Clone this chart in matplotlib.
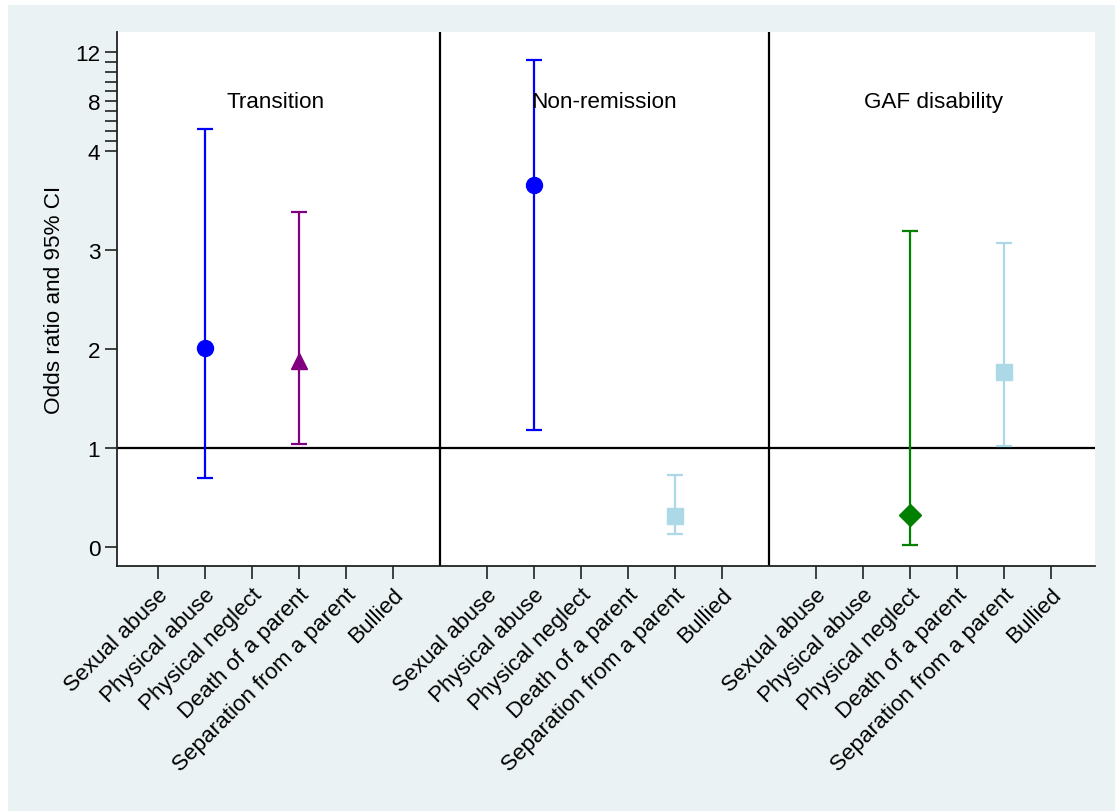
import matplotlib.pyplot as plt
import matplotlib.patches as mpatches
import numpy as np

plt.rcParams['font.family'] = ['Liberation Sans', 'DejaVu Sans']

# panels and exposures (same six on every panel)
panels = ["Transition", "Non-remission", "GAF disability"]
categories = ["Sexual abuse", "Physical abuse", "Physical neglect",
              "Death of a parent", "Separation from a parent", "Bullied"]

# estimates that were drawn (odds ratio with 95% CI)
est_panel = ["Transition", "Transition", "Non-remission", "Non-remission",
             "GAF disability", "GAF disability"]
est_category = ["Physical abuse", "Death of a parent", "Physical abuse",
                "Separation from a parent", "Physical neglect",
                "Separation from a parent"]
est_or = [2.01, 1.88, 3.65, 0.31, 0.32, 1.77]
est_lo = [0.70, 1.04, 1.18, 0.13, 0.02, 1.02]
est_hi = [5.8, 3.38, 11.3, 0.73, 3.19, 3.07]

y_ticks = [0, 1, 2, 3, 4, 8, 12]

# look per exposure
style = {
    "Physical abuse": dict(color="#0000ff", marker="o", ms=11.5),
    "Death of a parent": dict(color="#800080", marker="^", ms=11.5),
    "Separation from a parent": dict(color="#add8e6", marker="s", ms=11),
    "Physical neglect": dict(color="#008000", marker="D", ms=11.5),
}

FS = 16.2


# axis is linear up to 4, then squeezed 8:1 above
def fwd(v):
    v = np.asarray(v, dtype=float)
    return np.where(v <= 4, v, 4 + (v - 4) / 8)


def inv(u):
    u = np.asarray(u, dtype=float)
    return np.where(u <= 4, u, 4 + (u - 4) * 8)


fig = plt.figure(figsize=(11.15, 8.12), dpi=100, facecolor="white")
fig.patches.append(mpatches.Rectangle((8 / 1115, 0), 1 - 8 / 1115, 1 - 6 / 812,
                                      transform=fig.transFigure,
                                      facecolor="#eaf2f3", edgecolor="none",
                                      zorder=-10))
ax = fig.add_axes([117 / 1115, 1 - 566.7 / 812, (1095 - 117) / 1115, (566.7 - 33) / 812])
ax.set_facecolor("white")
ax.set_yscale("function", functions=(fwd, inv))

nper = len(categories) + 1
for i in range(len(est_or)):
    p = panels.index(est_panel[i])
    c = categories.index(est_category[i])
    x = p * nper + c + 1
    st = style[est_category[i]]
    ax.errorbar([x], [est_or[i]],
                yerr=[[est_or[i] - est_lo[i]], [est_hi[i] - est_or[i]]],
                fmt=st["marker"], color=st["color"], ms=st["ms"],
                ecolor=st["color"], elinewidth=1.6, capsize=5.5, capthick=1.6,
                zorder=3)

ax.axhline(1, color="black", lw=1.6, zorder=2)
for p in range(1, len(panels)):
    ax.axvline(p * nper, color="black", lw=1.6, zorder=2)

for p, name in enumerate(panels):
    ax.text(p * nper + (len(categories) + 1) / 2, 8, name, ha="center", va="center",
            fontsize=FS)

xt = [p * nper + c + 1 for p in range(len(panels)) for c in range(len(categories))]
ax.set_xticks(xt)
ax.set_xticklabels(categories * len(panels), rotation=45, ha="right",
                   rotation_mode="anchor", fontsize=FS)
ax.set_xlim(0.13, 20.94)
ax.set_ylim(-0.19, 13.6)
ax.set_yticks(y_ticks)
ax.set_yticklabels([str(t) for t in y_ticks], fontsize=FS)
ax.set_yticks([4.8, 5.6, 6.4, 7.2, 8.8, 9.6, 10.4, 11.2], minor=True)
ax.tick_params(axis="y", which="both", length=9, width=1.2, color="#222222", pad=3)
ax.tick_params(axis="x", length=9, width=1.2, color="#222222", pad=4)
ax.set_ylabel("Odds ratio and 95% CI", fontsize=FS, labelpad=7)

for s in ["top", "right"]:
    ax.spines[s].set_visible(False)
for s in ["left", "bottom"]:
    ax.spines[s].set_linewidth(1.3)
    ax.spines[s].set_color("#222222")

fig.savefig("out.png", dpi=100, facecolor=fig.get_facecolor())
